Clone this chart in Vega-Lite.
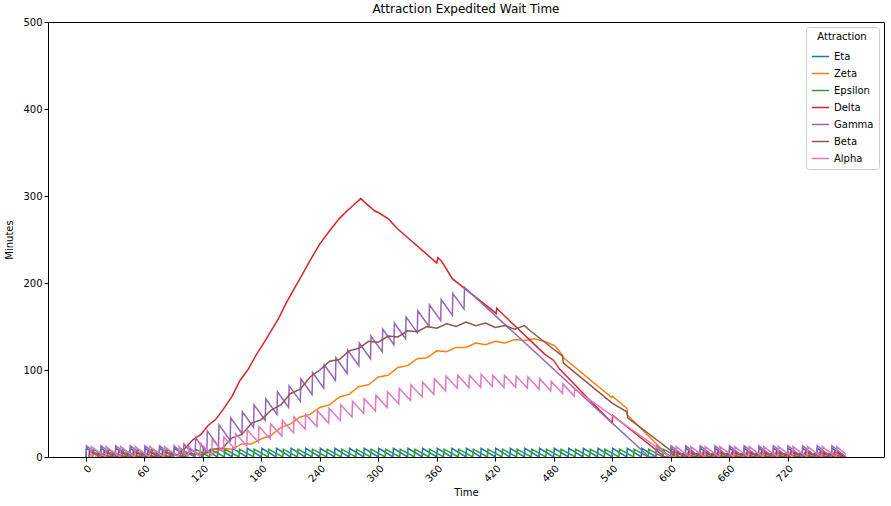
{
  "$schema": "https://vega.github.io/schema/vega-lite/v6.json",
  "width": 836,
  "height": 435,
  "autosize": "none",
  "padding": {"left": 48, "top": 22, "right": 7, "bottom": 49},
  "title": {"text": "Attraction Expedited Wait Time", "fontSize": 12, "fontWeight": "normal", "font": "DejaVu Sans", "offset": 1},
  "data": {"values": [
    {"s":"Eta","t":0,"v":0},{"s":"Eta","t":0.5,"v":10},{"s":"Eta","t":15,"v":0},{"s":"Eta","t":15.5,"v":10},{"s":"Eta","t":30,"v":0},{"s":"Eta","t":30.5,"v":10},{"s":"Eta","t":45,"v":0},{"s":"Eta","t":45.5,"v":10},{"s":"Eta","t":60,"v":0},{"s":"Eta","t":60.5,"v":10},{"s":"Eta","t":75,"v":0},{"s":"Eta","t":75.5,"v":10},{"s":"Eta","t":90,"v":0},{"s":"Eta","t":90.5,"v":10},{"s":"Eta","t":105,"v":0},{"s":"Eta","t":105.5,"v":10},{"s":"Eta","t":120,"v":0},{"s":"Eta","t":120.5,"v":10},{"s":"Eta","t":135,"v":0},{"s":"Eta","t":135.5,"v":10},{"s":"Eta","t":150,"v":0},{"s":"Eta","t":150.5,"v":10},{"s":"Eta","t":165,"v":0},{"s":"Eta","t":165.5,"v":10},{"s":"Eta","t":180,"v":0},{"s":"Eta","t":180.5,"v":10},{"s":"Eta","t":195,"v":0},{"s":"Eta","t":195.5,"v":10},{"s":"Eta","t":210,"v":0},{"s":"Eta","t":210.5,"v":10},{"s":"Eta","t":225,"v":0},{"s":"Eta","t":225.5,"v":10},{"s":"Eta","t":240,"v":0},{"s":"Eta","t":240.5,"v":10},{"s":"Eta","t":255,"v":0},{"s":"Eta","t":255.5,"v":10},{"s":"Eta","t":270,"v":0},{"s":"Eta","t":270.5,"v":10},{"s":"Eta","t":285,"v":0},{"s":"Eta","t":285.5,"v":10},{"s":"Eta","t":300,"v":0},{"s":"Eta","t":300.5,"v":10},{"s":"Eta","t":315,"v":0},{"s":"Eta","t":315.5,"v":10},{"s":"Eta","t":330,"v":0},{"s":"Eta","t":330.5,"v":10},{"s":"Eta","t":345,"v":0},{"s":"Eta","t":345.5,"v":10},{"s":"Eta","t":360,"v":0},{"s":"Eta","t":360.5,"v":10},{"s":"Eta","t":375,"v":0},{"s":"Eta","t":375.5,"v":10},{"s":"Eta","t":390,"v":0},{"s":"Eta","t":390.5,"v":10},{"s":"Eta","t":405,"v":0},{"s":"Eta","t":405.5,"v":10},{"s":"Eta","t":420,"v":0},{"s":"Eta","t":420.5,"v":10},{"s":"Eta","t":435,"v":0},{"s":"Eta","t":435.5,"v":10},{"s":"Eta","t":450,"v":0},{"s":"Eta","t":450.5,"v":10},{"s":"Eta","t":465,"v":0},{"s":"Eta","t":465.5,"v":10},{"s":"Eta","t":480,"v":0},{"s":"Eta","t":480.5,"v":10},{"s":"Eta","t":495,"v":0},{"s":"Eta","t":495.5,"v":10},{"s":"Eta","t":510,"v":0},{"s":"Eta","t":510.5,"v":10},{"s":"Eta","t":525,"v":0},{"s":"Eta","t":525.5,"v":10},{"s":"Eta","t":540,"v":0},{"s":"Eta","t":540.5,"v":10},{"s":"Eta","t":555,"v":0},{"s":"Eta","t":555.5,"v":10},{"s":"Eta","t":570,"v":0},{"s":"Eta","t":570.5,"v":10},{"s":"Eta","t":585,"v":0},{"s":"Eta","t":585.5,"v":10},{"s":"Eta","t":600,"v":0},{"s":"Eta","t":600.5,"v":10},{"s":"Eta","t":615,"v":0},{"s":"Eta","t":615.5,"v":10},{"s":"Eta","t":630,"v":0},{"s":"Eta","t":630.5,"v":10},{"s":"Eta","t":645,"v":0},{"s":"Eta","t":645.5,"v":10},{"s":"Eta","t":660,"v":0},{"s":"Eta","t":660.5,"v":10},{"s":"Eta","t":675,"v":0},{"s":"Eta","t":675.5,"v":10},{"s":"Eta","t":690,"v":0},{"s":"Eta","t":690.5,"v":10},{"s":"Eta","t":705,"v":0},{"s":"Eta","t":705.5,"v":10},{"s":"Eta","t":720,"v":0},{"s":"Eta","t":720.5,"v":10},{"s":"Eta","t":735,"v":0},{"s":"Eta","t":735.5,"v":10},{"s":"Eta","t":750,"v":0},{"s":"Eta","t":750.5,"v":10},{"s":"Eta","t":765,"v":0},{"s":"Eta","t":765.5,"v":10},{"s":"Eta","t":780,"v":0},

    {"s":"Zeta","t":10,"v":0},{"s":"Zeta","t":10.5,"v":5},{"s":"Zeta","t":25,"v":0},{"s":"Zeta","t":25.5,"v":5},{"s":"Zeta","t":40,"v":0},{"s":"Zeta","t":40.5,"v":5},{"s":"Zeta","t":55,"v":0},{"s":"Zeta","t":55.5,"v":5},{"s":"Zeta","t":70,"v":0},{"s":"Zeta","t":70.5,"v":5},{"s":"Zeta","t":85,"v":0},{"s":"Zeta","t":85.5,"v":5},{"s":"Zeta","t":100,"v":0},{"s":"Zeta","t":100.5,"v":5},
    {"s":"Zeta","t":110,"v":2},{"s":"Zeta","t":120,"v":6},{"s":"Zeta","t":130,"v":4},{"s":"Zeta","t":140,"v":10},{"s":"Zeta","t":150,"v":9},{"s":"Zeta","t":160,"v":15},{"s":"Zeta","t":170,"v":15},{"s":"Zeta","t":180,"v":21},{"s":"Zeta","t":190,"v":25},{"s":"Zeta","t":200,"v":34},{"s":"Zeta","t":210,"v":38},{"s":"Zeta","t":220,"v":46},{"s":"Zeta","t":230,"v":49},{"s":"Zeta","t":240,"v":57},{"s":"Zeta","t":250,"v":60},{"s":"Zeta","t":260,"v":69},{"s":"Zeta","t":270,"v":72},{"s":"Zeta","t":280,"v":81},{"s":"Zeta","t":290,"v":83},{"s":"Zeta","t":300,"v":92},{"s":"Zeta","t":310,"v":94},{"s":"Zeta","t":320,"v":103},{"s":"Zeta","t":330,"v":105},{"s":"Zeta","t":340,"v":113},{"s":"Zeta","t":350,"v":114},{"s":"Zeta","t":360,"v":122},{"s":"Zeta","t":370,"v":121},{"s":"Zeta","t":380,"v":126},{"s":"Zeta","t":390,"v":126},{"s":"Zeta","t":400,"v":131},{"s":"Zeta","t":410,"v":129},{"s":"Zeta","t":420,"v":133},{"s":"Zeta","t":430,"v":131},{"s":"Zeta","t":440,"v":135},{"s":"Zeta","t":450,"v":134},{"s":"Zeta","t":460,"v":136},{"s":"Zeta","t":470,"v":133},{"s":"Zeta","t":481,"v":128},{"s":"Zeta","t":489,"v":117},{"s":"Zeta","t":490,"v":114},{"s":"Zeta","t":539,"v":69},{"s":"Zeta","t":540,"v":70},{"s":"Zeta","t":555,"v":56},{"s":"Zeta","t":556,"v":48},{"s":"Zeta","t":599,"v":0},
    {"s":"Zeta","t":602,"v":0},{"s":"Zeta","t":602.5,"v":5},{"s":"Zeta","t":617,"v":0},{"s":"Zeta","t":617.5,"v":5},{"s":"Zeta","t":632,"v":0},{"s":"Zeta","t":632.5,"v":5},{"s":"Zeta","t":647,"v":0},{"s":"Zeta","t":647.5,"v":5},{"s":"Zeta","t":662,"v":0},{"s":"Zeta","t":662.5,"v":5},{"s":"Zeta","t":677,"v":0},{"s":"Zeta","t":677.5,"v":5},{"s":"Zeta","t":692,"v":0},{"s":"Zeta","t":692.5,"v":5},{"s":"Zeta","t":707,"v":0},{"s":"Zeta","t":707.5,"v":5},{"s":"Zeta","t":722,"v":0},{"s":"Zeta","t":722.5,"v":5},{"s":"Zeta","t":737,"v":0},{"s":"Zeta","t":737.5,"v":5},{"s":"Zeta","t":752,"v":0},{"s":"Zeta","t":752.5,"v":5},{"s":"Zeta","t":767,"v":0},{"s":"Zeta","t":767.5,"v":5},{"s":"Zeta","t":780,"v":0},

    {"s":"Epsilon","t":7,"v":0},{"s":"Epsilon","t":7.5,"v":9},{"s":"Epsilon","t":22,"v":0},{"s":"Epsilon","t":22.5,"v":9},{"s":"Epsilon","t":37,"v":0},{"s":"Epsilon","t":37.5,"v":9},{"s":"Epsilon","t":52,"v":0},{"s":"Epsilon","t":52.5,"v":9},{"s":"Epsilon","t":67,"v":0},{"s":"Epsilon","t":67.5,"v":9},{"s":"Epsilon","t":82,"v":0},{"s":"Epsilon","t":82.5,"v":9},{"s":"Epsilon","t":97,"v":0},{"s":"Epsilon","t":97.5,"v":9},{"s":"Epsilon","t":112,"v":0},{"s":"Epsilon","t":112.5,"v":9},{"s":"Epsilon","t":127,"v":0},{"s":"Epsilon","t":127.5,"v":9},{"s":"Epsilon","t":142,"v":0},{"s":"Epsilon","t":142.5,"v":9},{"s":"Epsilon","t":157,"v":0},{"s":"Epsilon","t":157.5,"v":9},{"s":"Epsilon","t":172,"v":0},{"s":"Epsilon","t":172.5,"v":9},{"s":"Epsilon","t":187,"v":0},{"s":"Epsilon","t":187.5,"v":9},{"s":"Epsilon","t":202,"v":0},{"s":"Epsilon","t":202.5,"v":9},{"s":"Epsilon","t":217,"v":0},{"s":"Epsilon","t":217.5,"v":9},{"s":"Epsilon","t":232,"v":0},{"s":"Epsilon","t":232.5,"v":9},{"s":"Epsilon","t":247,"v":0},{"s":"Epsilon","t":247.5,"v":9},{"s":"Epsilon","t":262,"v":0},{"s":"Epsilon","t":262.5,"v":9},{"s":"Epsilon","t":277,"v":0},{"s":"Epsilon","t":277.5,"v":9},{"s":"Epsilon","t":292,"v":0},{"s":"Epsilon","t":292.5,"v":9},{"s":"Epsilon","t":307,"v":0},{"s":"Epsilon","t":307.5,"v":9},{"s":"Epsilon","t":322,"v":0},{"s":"Epsilon","t":322.5,"v":9},{"s":"Epsilon","t":337,"v":0},{"s":"Epsilon","t":337.5,"v":9},{"s":"Epsilon","t":352,"v":0},{"s":"Epsilon","t":352.5,"v":9},{"s":"Epsilon","t":367,"v":0},{"s":"Epsilon","t":367.5,"v":9},{"s":"Epsilon","t":382,"v":0},{"s":"Epsilon","t":382.5,"v":9},{"s":"Epsilon","t":397,"v":0},{"s":"Epsilon","t":397.5,"v":9},{"s":"Epsilon","t":412,"v":0},{"s":"Epsilon","t":412.5,"v":9},{"s":"Epsilon","t":427,"v":0},{"s":"Epsilon","t":427.5,"v":9},{"s":"Epsilon","t":442,"v":0},{"s":"Epsilon","t":442.5,"v":9},{"s":"Epsilon","t":457,"v":0},{"s":"Epsilon","t":457.5,"v":9},{"s":"Epsilon","t":472,"v":0},{"s":"Epsilon","t":472.5,"v":9},{"s":"Epsilon","t":487,"v":0},{"s":"Epsilon","t":487.5,"v":9},{"s":"Epsilon","t":502,"v":0},{"s":"Epsilon","t":502.5,"v":9},{"s":"Epsilon","t":517,"v":0},{"s":"Epsilon","t":517.5,"v":9},{"s":"Epsilon","t":532,"v":0},{"s":"Epsilon","t":532.5,"v":9},{"s":"Epsilon","t":547,"v":0},{"s":"Epsilon","t":547.5,"v":9},{"s":"Epsilon","t":562,"v":0},{"s":"Epsilon","t":562.5,"v":9},{"s":"Epsilon","t":577,"v":0},{"s":"Epsilon","t":577.5,"v":9},{"s":"Epsilon","t":592,"v":0},{"s":"Epsilon","t":592.5,"v":9},{"s":"Epsilon","t":607,"v":0},{"s":"Epsilon","t":607.5,"v":4},{"s":"Epsilon","t":622,"v":0},{"s":"Epsilon","t":622.5,"v":4},{"s":"Epsilon","t":637,"v":0},{"s":"Epsilon","t":637.5,"v":4},{"s":"Epsilon","t":652,"v":0},{"s":"Epsilon","t":652.5,"v":4},{"s":"Epsilon","t":667,"v":0},{"s":"Epsilon","t":667.5,"v":4},{"s":"Epsilon","t":682,"v":0},{"s":"Epsilon","t":682.5,"v":4},{"s":"Epsilon","t":697,"v":0},{"s":"Epsilon","t":697.5,"v":4},{"s":"Epsilon","t":712,"v":0},{"s":"Epsilon","t":712.5,"v":4},{"s":"Epsilon","t":727,"v":0},{"s":"Epsilon","t":727.5,"v":4},{"s":"Epsilon","t":742,"v":0},{"s":"Epsilon","t":742.5,"v":4},{"s":"Epsilon","t":757,"v":0},{"s":"Epsilon","t":757.5,"v":4},{"s":"Epsilon","t":772,"v":0},

    {"s":"Delta","t":3,"v":0},{"s":"Delta","t":3.5,"v":6},{"s":"Delta","t":18,"v":0},{"s":"Delta","t":18.5,"v":6},{"s":"Delta","t":33,"v":0},{"s":"Delta","t":33.5,"v":6},{"s":"Delta","t":48,"v":0},{"s":"Delta","t":48.5,"v":6},{"s":"Delta","t":63,"v":0},{"s":"Delta","t":63.5,"v":6},{"s":"Delta","t":78,"v":0},{"s":"Delta","t":78.5,"v":6},{"s":"Delta","t":93,"v":2},
    {"s":"Delta","t":100,"v":8},{"s":"Delta","t":110,"v":20},{"s":"Delta","t":118,"v":26},{"s":"Delta","t":125,"v":36},{"s":"Delta","t":133,"v":43},{"s":"Delta","t":141,"v":55},{"s":"Delta","t":150,"v":70},{"s":"Delta","t":158,"v":88},{"s":"Delta","t":166,"v":100},{"s":"Delta","t":175,"v":118},{"s":"Delta","t":183,"v":132},{"s":"Delta","t":190,"v":145},{"s":"Delta","t":198,"v":160},{"s":"Delta","t":205,"v":176},{"s":"Delta","t":212,"v":190},{"s":"Delta","t":219,"v":204},{"s":"Delta","t":230,"v":226},{"s":"Delta","t":240,"v":245},{"s":"Delta","t":250,"v":260},{"s":"Delta","t":260,"v":274},{"s":"Delta","t":268,"v":283},{"s":"Delta","t":275,"v":290},{"s":"Delta","t":282,"v":297},
    {"s":"Delta","t":296,"v":283},{"s":"Delta","t":300,"v":281},{"s":"Delta","t":310,"v":274},{"s":"Delta","t":320,"v":262},{"s":"Delta","t":360,"v":223},{"s":"Delta","t":361,"v":229},{"s":"Delta","t":365,"v":225},{"s":"Delta","t":376,"v":205},{"s":"Delta","t":421,"v":165},{"s":"Delta","t":421.5,"v":171},{"s":"Delta","t":426,"v":166},{"s":"Delta","t":471,"v":118},{"s":"Delta","t":480,"v":111},{"s":"Delta","t":486,"v":101},{"s":"Delta","t":540,"v":39},{"s":"Delta","t":540.5,"v":48},{"s":"Delta","t":594,"v":0},
    {"s":"Delta","t":603,"v":0},{"s":"Delta","t":603.5,"v":6},{"s":"Delta","t":618,"v":0},{"s":"Delta","t":618.5,"v":6},{"s":"Delta","t":633,"v":0},{"s":"Delta","t":633.5,"v":6},{"s":"Delta","t":648,"v":0},{"s":"Delta","t":648.5,"v":6},{"s":"Delta","t":663,"v":0},{"s":"Delta","t":663.5,"v":6},{"s":"Delta","t":678,"v":0},{"s":"Delta","t":678.5,"v":6},{"s":"Delta","t":693,"v":0},{"s":"Delta","t":693.5,"v":6},{"s":"Delta","t":708,"v":0},{"s":"Delta","t":708.5,"v":6},{"s":"Delta","t":723,"v":0},{"s":"Delta","t":723.5,"v":6},{"s":"Delta","t":738,"v":0},{"s":"Delta","t":738.5,"v":6},{"s":"Delta","t":753,"v":0},{"s":"Delta","t":753.5,"v":6},{"s":"Delta","t":768,"v":0},{"s":"Delta","t":768.5,"v":6},{"s":"Delta","t":780,"v":0},

    {"s":"Gamma","t":0,"v":0},{"s":"Gamma","t":0.5,"v":13},{"s":"Gamma","t":15,"v":0},{"s":"Gamma","t":15.5,"v":13},{"s":"Gamma","t":30,"v":0},{"s":"Gamma","t":30.5,"v":13},{"s":"Gamma","t":45,"v":0},{"s":"Gamma","t":45.5,"v":13},{"s":"Gamma","t":60,"v":0},{"s":"Gamma","t":60.5,"v":13},{"s":"Gamma","t":75,"v":0},{"s":"Gamma","t":75.5,"v":13},{"s":"Gamma","t":90,"v":0},{"s":"Gamma","t":90.5,"v":13},
    {"s":"Gamma","t":100,"v":2},{"s":"Gamma","t":100.5,"v":15},{"s":"Gamma","t":112,"v":0},{"s":"Gamma","t":112.5,"v":22},{"s":"Gamma","t":124,"v":5},{"s":"Gamma","t":124.5,"v":30},{"s":"Gamma","t":136,"v":12},{"s":"Gamma","t":136.5,"v":37},{"s":"Gamma","t":148,"v":19},{"s":"Gamma","t":148.5,"v":45},{"s":"Gamma","t":160,"v":27},{"s":"Gamma","t":160.5,"v":52},{"s":"Gamma","t":172,"v":34},{"s":"Gamma","t":172.5,"v":60},{"s":"Gamma","t":184,"v":42},{"s":"Gamma","t":184.5,"v":67},{"s":"Gamma","t":196,"v":49},{"s":"Gamma","t":196.5,"v":75},{"s":"Gamma","t":208,"v":57},{"s":"Gamma","t":208.5,"v":82},{"s":"Gamma","t":220,"v":64},{"s":"Gamma","t":220.5,"v":90},{"s":"Gamma","t":232,"v":72},{"s":"Gamma","t":232.5,"v":97},{"s":"Gamma","t":244,"v":79},{"s":"Gamma","t":244.5,"v":106},{"s":"Gamma","t":256,"v":88},{"s":"Gamma","t":256.5,"v":114},{"s":"Gamma","t":268,"v":96},{"s":"Gamma","t":268.5,"v":123},{"s":"Gamma","t":280,"v":105},{"s":"Gamma","t":280.5,"v":131},{"s":"Gamma","t":292,"v":113},{"s":"Gamma","t":292.5,"v":139},{"s":"Gamma","t":304,"v":121},{"s":"Gamma","t":304.5,"v":147},{"s":"Gamma","t":316,"v":129},{"s":"Gamma","t":316.5,"v":154},{"s":"Gamma","t":328,"v":136},{"s":"Gamma","t":328.5,"v":161},{"s":"Gamma","t":340,"v":143},{"s":"Gamma","t":340.5,"v":168},{"s":"Gamma","t":352,"v":150},{"s":"Gamma","t":352.5,"v":175},{"s":"Gamma","t":364,"v":157},{"s":"Gamma","t":364.5,"v":181},{"s":"Gamma","t":376,"v":163},{"s":"Gamma","t":376.5,"v":188},{"s":"Gamma","t":388,"v":170},{"s":"Gamma","t":388.5,"v":195},{"s":"Gamma","t":578,"v":0},
    {"s":"Gamma","t":585,"v":0},{"s":"Gamma","t":585.5,"v":13},{"s":"Gamma","t":600,"v":0},{"s":"Gamma","t":600.5,"v":13},{"s":"Gamma","t":615,"v":0},{"s":"Gamma","t":615.5,"v":13},{"s":"Gamma","t":630,"v":0},{"s":"Gamma","t":630.5,"v":13},{"s":"Gamma","t":645,"v":0},{"s":"Gamma","t":645.5,"v":13},{"s":"Gamma","t":660,"v":0},{"s":"Gamma","t":660.5,"v":13},{"s":"Gamma","t":675,"v":0},{"s":"Gamma","t":675.5,"v":13},{"s":"Gamma","t":690,"v":0},{"s":"Gamma","t":690.5,"v":13},{"s":"Gamma","t":705,"v":0},{"s":"Gamma","t":705.5,"v":13},{"s":"Gamma","t":720,"v":0},{"s":"Gamma","t":720.5,"v":13},{"s":"Gamma","t":735,"v":0},{"s":"Gamma","t":735.5,"v":13},{"s":"Gamma","t":750,"v":0},{"s":"Gamma","t":750.5,"v":13},{"s":"Gamma","t":765,"v":0},{"s":"Gamma","t":765.5,"v":13},{"s":"Gamma","t":780,"v":0},

    {"s":"Beta","t":12,"v":0},{"s":"Beta","t":12.5,"v":4},{"s":"Beta","t":27,"v":0},{"s":"Beta","t":27.5,"v":4},{"s":"Beta","t":42,"v":0},{"s":"Beta","t":42.5,"v":4},{"s":"Beta","t":57,"v":0},{"s":"Beta","t":57.5,"v":4},{"s":"Beta","t":72,"v":0},{"s":"Beta","t":72.5,"v":4},{"s":"Beta","t":87,"v":0},{"s":"Beta","t":87.5,"v":4},{"s":"Beta","t":102,"v":0},{"s":"Beta","t":102.5,"v":4},
    {"s":"Beta","t":120,"v":3},{"s":"Beta","t":130,"v":9},{"s":"Beta","t":140,"v":10},{"s":"Beta","t":150,"v":22},{"s":"Beta","t":160,"v":26},{"s":"Beta","t":170,"v":39},{"s":"Beta","t":180,"v":43},{"s":"Beta","t":190,"v":54},{"s":"Beta","t":200,"v":60},{"s":"Beta","t":210,"v":73},{"s":"Beta","t":220,"v":78},{"s":"Beta","t":230,"v":92},{"s":"Beta","t":240,"v":100},{"s":"Beta","t":250,"v":110},{"s":"Beta","t":260,"v":112},{"s":"Beta","t":270,"v":122},{"s":"Beta","t":280,"v":125},{"s":"Beta","t":290,"v":133},{"s":"Beta","t":300,"v":132},{"s":"Beta","t":310,"v":139},{"s":"Beta","t":320,"v":138},{"s":"Beta","t":330,"v":145},{"s":"Beta","t":340,"v":144},{"s":"Beta","t":350,"v":150},{"s":"Beta","t":360,"v":148},{"s":"Beta","t":370,"v":153},{"s":"Beta","t":380,"v":150},{"s":"Beta","t":390,"v":155},{"s":"Beta","t":400,"v":151},{"s":"Beta","t":410,"v":154},{"s":"Beta","t":420,"v":149},{"s":"Beta","t":430,"v":151},{"s":"Beta","t":440,"v":147},{"s":"Beta","t":450,"v":151},{"s":"Beta","t":455,"v":146},{"s":"Beta","t":481,"v":123},{"s":"Beta","t":489,"v":116},{"s":"Beta","t":490,"v":108},{"s":"Beta","t":540,"v":62},{"s":"Beta","t":555,"v":52},{"s":"Beta","t":556,"v":45},{"s":"Beta","t":609,"v":0},
    {"s":"Beta","t":612,"v":0},{"s":"Beta","t":612.5,"v":4},{"s":"Beta","t":627,"v":0},{"s":"Beta","t":627.5,"v":4},{"s":"Beta","t":642,"v":0},{"s":"Beta","t":642.5,"v":4},{"s":"Beta","t":657,"v":0},{"s":"Beta","t":657.5,"v":4},{"s":"Beta","t":672,"v":0},{"s":"Beta","t":672.5,"v":4},{"s":"Beta","t":687,"v":0},{"s":"Beta","t":687.5,"v":4},{"s":"Beta","t":702,"v":0},{"s":"Beta","t":702.5,"v":4},{"s":"Beta","t":717,"v":0},{"s":"Beta","t":717.5,"v":4},{"s":"Beta","t":732,"v":0},{"s":"Beta","t":732.5,"v":4},{"s":"Beta","t":747,"v":0},{"s":"Beta","t":747.5,"v":4},{"s":"Beta","t":762,"v":0},{"s":"Beta","t":762.5,"v":4},{"s":"Beta","t":777,"v":0},

    {"s":"Alpha","t":5,"v":0},{"s":"Alpha","t":5.5,"v":12},{"s":"Alpha","t":20,"v":0},{"s":"Alpha","t":20.5,"v":12},{"s":"Alpha","t":35,"v":0},{"s":"Alpha","t":35.5,"v":12},{"s":"Alpha","t":50,"v":0},{"s":"Alpha","t":50.5,"v":12},{"s":"Alpha","t":65,"v":0},{"s":"Alpha","t":65.5,"v":12},{"s":"Alpha","t":80,"v":0},{"s":"Alpha","t":80.5,"v":12},{"s":"Alpha","t":95,"v":0},{"s":"Alpha","t":95.5,"v":12},
    {"s":"Alpha","t":105,"v":0},{"s":"Alpha","t":105.5,"v":12},{"s":"Alpha","t":117,"v":0},{"s":"Alpha","t":117.5,"v":16},{"s":"Alpha","t":129,"v":2},{"s":"Alpha","t":129.5,"v":20},{"s":"Alpha","t":141,"v":6},{"s":"Alpha","t":141.5,"v":23},{"s":"Alpha","t":153,"v":9},{"s":"Alpha","t":153.5,"v":27},{"s":"Alpha","t":165,"v":13},{"s":"Alpha","t":165.5,"v":31},{"s":"Alpha","t":177,"v":17},{"s":"Alpha","t":177.5,"v":35},{"s":"Alpha","t":189,"v":21},{"s":"Alpha","t":189.5,"v":38},{"s":"Alpha","t":201,"v":24},{"s":"Alpha","t":201.5,"v":42},{"s":"Alpha","t":213,"v":28},{"s":"Alpha","t":213.5,"v":46},{"s":"Alpha","t":225,"v":32},{"s":"Alpha","t":225.5,"v":49},{"s":"Alpha","t":237,"v":35},{"s":"Alpha","t":237.5,"v":53},{"s":"Alpha","t":249,"v":39},{"s":"Alpha","t":249.5,"v":56},{"s":"Alpha","t":261,"v":42},{"s":"Alpha","t":261.5,"v":60},{"s":"Alpha","t":273,"v":46},{"s":"Alpha","t":273.5,"v":64},{"s":"Alpha","t":285,"v":50},{"s":"Alpha","t":285.5,"v":67},{"s":"Alpha","t":297,"v":53},{"s":"Alpha","t":297.5,"v":71},{"s":"Alpha","t":309,"v":57},{"s":"Alpha","t":309.5,"v":75},{"s":"Alpha","t":321,"v":61},{"s":"Alpha","t":321.5,"v":79},{"s":"Alpha","t":333,"v":65},{"s":"Alpha","t":333.5,"v":83},{"s":"Alpha","t":345,"v":69},{"s":"Alpha","t":345.5,"v":86},{"s":"Alpha","t":357,"v":72},{"s":"Alpha","t":357.5,"v":90},{"s":"Alpha","t":369,"v":76},{"s":"Alpha","t":369.5,"v":93},{"s":"Alpha","t":381,"v":79},{"s":"Alpha","t":381.5,"v":94},{"s":"Alpha","t":393,"v":80},{"s":"Alpha","t":393.5,"v":94},{"s":"Alpha","t":405,"v":80},{"s":"Alpha","t":405.5,"v":95},{"s":"Alpha","t":417,"v":81},{"s":"Alpha","t":417.5,"v":94},{"s":"Alpha","t":429,"v":80},{"s":"Alpha","t":429.5,"v":94},{"s":"Alpha","t":441,"v":80},{"s":"Alpha","t":441.5,"v":93},{"s":"Alpha","t":453,"v":79},{"s":"Alpha","t":453.5,"v":92},{"s":"Alpha","t":465,"v":78},{"s":"Alpha","t":465.5,"v":90},{"s":"Alpha","t":477,"v":76},{"s":"Alpha","t":477.5,"v":87},{"s":"Alpha","t":489,"v":73},{"s":"Alpha","t":489.5,"v":84},{"s":"Alpha","t":501,"v":70},{"s":"Alpha","t":501.5,"v":78},{"s":"Alpha","t":600,"v":0},
    {"s":"Alpha","t":605,"v":0},{"s":"Alpha","t":605.5,"v":12},{"s":"Alpha","t":620,"v":0},{"s":"Alpha","t":620.5,"v":12},{"s":"Alpha","t":635,"v":0},{"s":"Alpha","t":635.5,"v":12},{"s":"Alpha","t":650,"v":0},{"s":"Alpha","t":650.5,"v":12},{"s":"Alpha","t":665,"v":0},{"s":"Alpha","t":665.5,"v":12},{"s":"Alpha","t":680,"v":0},{"s":"Alpha","t":680.5,"v":12},{"s":"Alpha","t":695,"v":0},{"s":"Alpha","t":695.5,"v":12},{"s":"Alpha","t":710,"v":0},{"s":"Alpha","t":710.5,"v":12},{"s":"Alpha","t":725,"v":0},{"s":"Alpha","t":725.5,"v":12},{"s":"Alpha","t":740,"v":0},{"s":"Alpha","t":740.5,"v":12},{"s":"Alpha","t":755,"v":0},{"s":"Alpha","t":755.5,"v":12},{"s":"Alpha","t":770,"v":0},{"s":"Alpha","t":770.5,"v":12},{"s":"Alpha","t":780,"v":3}
  ]},
  "mark": {"type": "line", "strokeWidth": 1.5, "clip": true},
  "encoding": {
    "x": {
      "field": "t", "type": "quantitative", "title": "Time",
      "scale": {"domain": [-39, 819], "nice": false, "zero": false},
      "axis": {"values": [0, 60, 120, 180, 240, 300, 360, 420, 480, 540, 600, 660, 720], "labelAngle": -45, "grid": false, "titlePadding": 4}
    },
    "y": {
      "field": "v", "type": "quantitative", "title": "Minutes",
      "scale": {"domain": [0, 500], "nice": false},
      "axis": {"values": [0, 100, 200, 300, 400, 500], "grid": false, "titlePadding": 8}
    },
    "color": {
      "field": "s", "type": "nominal", "title": "Attraction",
      "scale": {
        "domain": ["Eta", "Zeta", "Epsilon", "Delta", "Gamma", "Beta", "Alpha"],
        "range": ["#1f77b4", "#ff7f0e", "#2ca02c", "#d62728", "#9467bd", "#8c564b", "#e377c2"]
      },
      "legend": {
        "orient": "top-right", "offset": 5, "symbolType": "stroke", "symbolSize": 300, "symbolStrokeWidth": 1.5,
        "fillColor": "white", "strokeColor": "#cccccc", "padding": 5, "cornerRadius": 3,
        "titleFontWeight": "normal", "titleAnchor": "middle", "titleFontSize": 10, "labelFontSize": 10, "rowPadding": 2
      }
    }
  },
  "config": {
    "font": "DejaVu Sans",
    "view": {"stroke": "black", "strokeWidth": 1},
    "axis": {"labelFontSize": 10, "titleFontSize": 10, "titleFontWeight": "normal", "labelColor": "black", "titleColor": "black", "domainColor": "black", "tickColor": "black", "domain": false, "tickSize": 4}
  }
}
